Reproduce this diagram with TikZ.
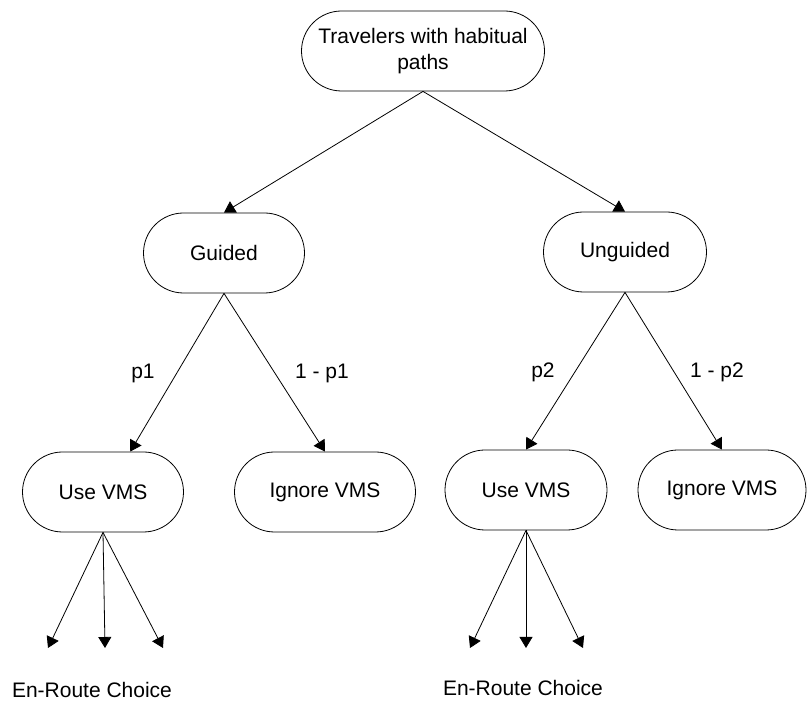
\documentclass[tikz,border=0pt]{standalone}
\usepackage{fontspec}
\setmainfont{Liberation Sans}
\usetikzlibrary{arrows.meta}

\newlength\BoxH
\setlength\BoxH{40pt}

\tikzset{
  choice/.style={draw, rounded corners=0.5\BoxH, minimum height=\BoxH,
    inner sep=2pt, align=center, font=\fontsize{10.5}{13}\selectfont},
  label/.style={font=\fontsize{10.5}{13}\selectfont},
  branch/.style={-{Triangle[length=5.5pt,width=6.5pt]}},
}

\begin{document}
\begin{tikzpicture}[x=0.5pt, y=-0.5pt, line join=round]
  \useasboundingbox (0,0) rectangle (810,705);
  \node[choice, minimum width=121.5pt] (top) at (423,51) {Travelers with habitual\\paths};
  \node[choice, minimum width=80.5pt] (guided) at (224,253) {Guided};
  \node[choice, minimum width=81.5pt] (unguided) at (625,252) {Unguided};
  \node[choice, minimum width=80.5pt] (useL) at (103,492) {Use VMS};
  \node[choice, minimum width=90.5pt] (ignoreL) at (325,492) {Ignore VMS};
  \node[choice, minimum width=81pt] (useR) at (526,490) {Use VMS};
  \node[choice, minimum width=84pt] (ignoreR) at (722,490) {Ignore VMS};
  % branch probabilities
  \node[label] (pA) at (143,373) {p1};
  \node[label] (qA) at (322,373) {1 - p1};
  \node[label] (pB) at (543,372) {p2};
  \node[label] (qB) at (717,372) {1 - p2};
  \node[label] (routeL) at (92,690) {En-Route Choice};
  \node[label] (routeR) at (523,688) {En-Route Choice};
  \coordinate (eL1) at (48,648);
  \coordinate (eL2) at (105,648);
  \coordinate (eL3) at (163,648);
  \coordinate (eR1) at (470,648);
  \coordinate (eR2) at (526,648);
  \coordinate (eR3) at (583,648);
  \draw[branch]
    (top.south) -- (guided.north);
  \draw[branch]
    (top.south) -- (unguided.north);
  \draw[branch] (guided.south) -- (useL.56);
  \draw[branch] (guided.south) -- (ignoreL.north);
  \draw[branch] (unguided.south) -- (useR.north);
  \draw[branch] (unguided.south) -- (ignoreR.north);
  \foreach \n in {1,2,3}
    \draw[branch] (useL.south) -- (eL\n);
  \foreach \n in {1,2,3}
    \draw[branch] (useR.south) -- (eR\n);
\end{tikzpicture}
\end{document}
